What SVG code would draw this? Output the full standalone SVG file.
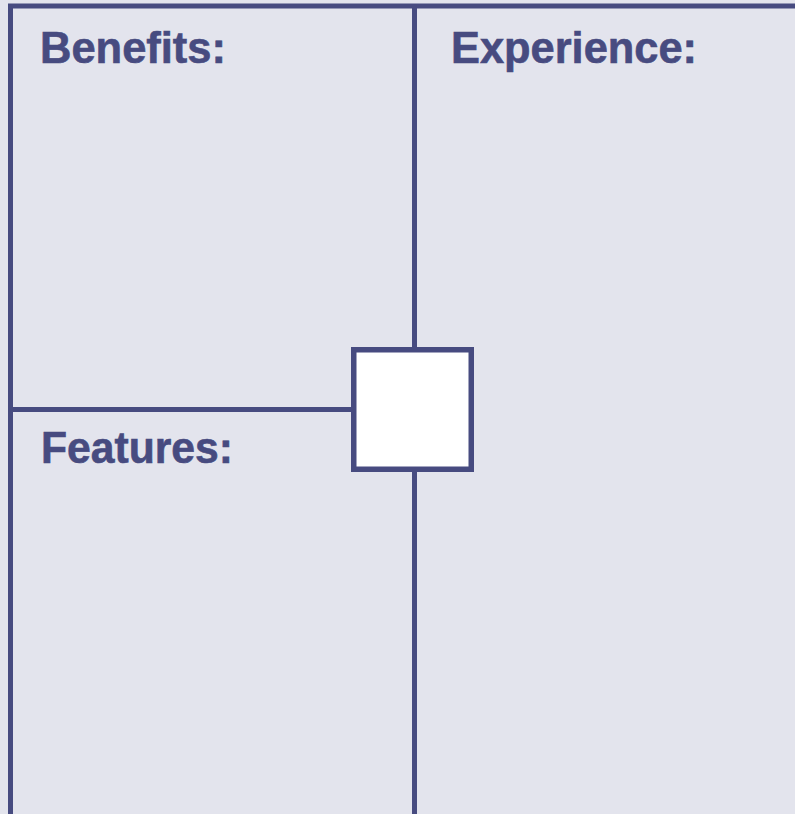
<svg xmlns="http://www.w3.org/2000/svg" width="795" height="814" viewBox="0 0 795 814">
<style>
.ln{stroke:#474b80;stroke-width:5;fill:none}
.lbl{font-family:"Liberation Sans",Arial,sans-serif;font-weight:bold;font-size:44px;fill:#474b80;stroke:#474b80;stroke-width:0.6}
</style>
<rect x="0" y="0" width="795" height="814" fill="#e3e4ed"/>
<g id="connectors">
<line class="ln" x1="8" y1="6" x2="795" y2="6"/>
<line class="ln" x1="10.5" y1="4" x2="10.5" y2="814"/>
<line class="ln" x1="414.5" y1="6" x2="414.5" y2="350"/>
<line class="ln" x1="414.5" y1="469" x2="414.5" y2="814"/>
<line class="ln" x1="10.5" y1="409.5" x2="354" y2="409.5"/>
</g>
<g id="benefits"><text class="lbl" x="40" y="63" textLength="186" lengthAdjust="spacingAndGlyphs">Benefits:</text></g>
<g id="experience"><text class="lbl" x="451" y="63" textLength="246" lengthAdjust="spacingAndGlyphs">Experience:</text></g>
<g id="features"><text class="lbl" x="41" y="463" textLength="192" lengthAdjust="spacingAndGlyphs">Features:</text></g>
<g id="center"><rect x="353.75" y="349.75" width="117.5" height="119.5" fill="#ffffff" stroke="#474b80" stroke-width="5.5"/></g>
</svg>
